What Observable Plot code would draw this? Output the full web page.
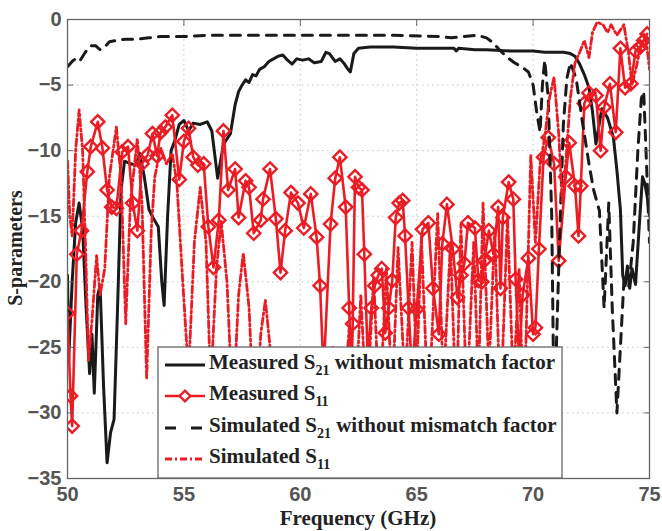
<!DOCTYPE html>
<html>
<head>
<meta charset="utf-8">
<script src="https://cdn.jsdelivr.net/npm/d3@7"></script>
<script src="https://cdn.jsdelivr.net/npm/@observablehq/plot@0.6"></script>
<style>
  html, body { margin: 0; padding: 0; background: #fff; }
  #chart svg { display: block; }
</style>
</head>
<body>
<div id="chart"></div>
<script>
// ---------------- data (GHz, dB) ----------------
const xTicks = [50, 55, 60, 65, 70, 75];
const yTicks = [-35, -30, -25, -20, -15, -10, -5, 0];

const measS21Freq = [50.0,50.05,50.2,50.35,50.5,50.65,50.8,50.95,51.05,51.15,51.3,51.4,51.55,51.7,51.85,52.0,52.15,52.3,52.45,52.7,52.95,53.1,53.3,53.5,53.7,53.9,54.05,54.15,54.3,54.45,54.6,54.8,55.0,55.2,55.4,55.7,56.0,56.2,56.45,56.7,57.0,57.2,57.35,57.5,57.65,57.8,57.95,58.1,58.25,58.45,58.65,58.85,59.05,59.25,59.45,59.65,59.85,60.1,60.35,60.6,60.9,61.1,61.25,61.5,61.7,61.9,62.05,62.15,62.3,62.5,63.0,64.0,65.0,66.0,66.6,66.7,66.8,67.5,68.0,69.0,70.0,70.5,71.0,71.3,71.6,71.8,72.0,72.2,72.4,72.55,72.7,72.95,73.2,73.45,73.6,73.75,73.85,73.95,74.05,74.15,74.25,74.4,74.55,74.7,74.8,74.9,75.0];
const measS21 = [-19.5,-26,-20,-15.5,-14.0,-16,-22,-27,-24,-28.5,-21,-20.3,-28,-33.8,-31.5,-30.5,-22,-13,-10.8,-11.0,-11.1,-10.2,-12.0,-14.5,-15.2,-15.8,-20,-21.8,-15,-10,-9.3,-8.0,-7.7,-8.5,-7.9,-8.0,-7.8,-8.5,-12.1,-9.5,-8.7,-6.5,-5.5,-5.0,-4.6,-4.8,-4.2,-4.3,-3.8,-3.6,-3.2,-3.0,-2.8,-2.7,-3.1,-3.4,-3.0,-3.1,-3.0,-3.3,-3.2,-2.5,-2.6,-3.2,-3.0,-3.4,-3.8,-4.0,-2.6,-2.2,-2.1,-2.1,-2.2,-2.2,-2.2,-2.4,-2.2,-2.3,-2.3,-2.4,-2.4,-2.5,-2.5,-2.5,-2.6,-2.8,-3.4,-4.2,-5.2,-7.0,-9.5,-6.8,-7.5,-9.0,-11.5,-14.5,-19.5,-20.3,-18.8,-20.5,-19.0,-20.2,-16,-12,-12.5,-13.5,-15];

const measS11Freq = [50.0,50.13,50.2,50.4,50.6,50.85,51.0,51.3,51.5,51.7,51.9,52.1,52.35,52.6,52.8,53.0,53.2,53.45,53.65,53.85,54.0,54.2,54.5,54.8,55.0,55.2,55.4,55.6,55.85,56.05,56.27,56.5,56.7,56.9,57.2,57.35,57.65,57.8,58.0,58.3,58.4,58.7,58.95,59.15,59.35,59.6,59.9,60.15,60.45,60.7,60.85,61.0,61.3,61.5,61.7,61.95,62.1,62.2,62.25,62.35,62.5,62.65,62.75,62.9,63.05,63.2,63.35,63.5,63.65,63.8,63.95,64.1,64.25,64.4,64.5,64.65,64.8,65.0,65.25,65.5,65.7,65.95,66.1,66.3,66.55,66.75,66.9,67.05,67.2,67.5,67.65,67.8,67.9,68.1,68.3,68.5,68.6,68.7,68.95,69.15,69.25,69.4,69.55,69.8,70.0,70.1,70.25,70.45,70.65,70.9,71.1,71.4,71.55,71.8,71.95,72.05,72.2,72.4,72.7,72.9,73.05,73.3,73.55,73.75,73.95,74.2,74.4,74.6,74.75,74.9];
const measS11 = [-22.4,-28.7,-31,-17.9,-16.1,-11.6,-9.7,-7.8,-9.8,-13,-14.3,-14.4,-10.1,-9.7,-14,-16.1,-11,-10.3,-8.7,-10.4,-8.6,-8.2,-7.3,-12.2,-9.3,-8.3,-10.5,-11.1,-11.0,-15.8,-18.9,-15.3,-8.5,-13,-11.4,-15.1,-12.3,-12.8,-16.3,-15.3,-13.7,-11.4,-15.2,-19.3,-16.1,-13.2,-14,-15.9,-13.3,-16.6,-20.3,-27,-15.6,-12.1,-10.5,-14.3,-22,-28,-23.2,-12.0,-12.8,-13.0,-17.9,-26,-22,-20.3,-19.5,-19.0,-23.9,-22,-19.9,-15.1,-14.0,-13.8,-16.5,-22,-27,-22.1,-16.0,-15.5,-20.5,-24,-17.1,-14.1,-17.5,-21.2,-19.5,-18.6,-15.5,-15.9,-19.9,-20,-18.4,-16.1,-17.9,-14.3,-20.5,-15.1,-12.4,-13.7,-19.8,-26,-21,-18.2,-24,-23.5,-17.5,-10.5,-9.0,-11.0,-18.4,-12.0,-9.4,-12.7,-16.5,-12.7,-6.4,-5.6,-5.8,-10,-6.7,-4.9,-8.6,-2.2,-5.2,-4.9,-2.4,-2.1,-1.6,-1.1];

const simS21Freq = [50.0,50.2,50.4,50.55,50.8,51.0,51.2,51.4,51.55,51.8,52.1,52.5,53.0,53.5,54.0,55.0,56.0,58.0,60.0,62.0,64.0,66.0,66.5,67.0,67.6,68.0,68.3,68.6,68.9,69.2,69.5,69.8,70.0,70.15,70.3,70.4,70.5,70.65,70.8,70.9,71.0,71.15,71.3,71.45,71.6,71.85,72.1,72.4,72.6,72.85,73.05,73.15,73.25,73.4,73.6,73.75,73.9,74.1,74.3,74.5,74.65,74.75,74.85,75.0];
const simS21 = [-3.6,-3.2,-2.9,-3.1,-2.4,-2.0,-2.0,-2.3,-2.2,-1.7,-1.6,-1.5,-1.5,-1.4,-1.3,-1.3,-1.2,-1.2,-1.2,-1.2,-1.2,-1.3,-1.4,-1.3,-1.2,-1.4,-1.8,-2.4,-2.9,-3.3,-3.6,-4.0,-5.0,-7.0,-8.6,-5.0,-3.1,-6.0,-15,-30,-25,-16,-8,-4.5,-3.3,-4.5,-7.6,-11,-13,-14.6,-22,-18,-14,-22,-30,-25,-20,-20.5,-17,-10,-6,-5.5,-10,-17];

const simS11Freq = [50.0,50.1,50.2,50.35,50.5,50.65,50.8,50.9,51.05,51.25,51.4,51.6,51.8,52.1,52.3,52.5,52.7,53.0,53.2,53.4,53.6,53.75,54.0,54.25,54.5,54.7,54.95,55.2,55.45,55.7,55.95,56.15,56.4,56.6,56.85,57.1,57.35,57.55,57.8,58.05,58.3,58.5,58.7,58.95,59.3,59.6,59.95,60.3,60.65,61.0,61.4,61.75,62.1,62.35,62.6,62.85,63.15,63.4,63.7,63.95,64.2,64.5,64.8,65.0,65.2,65.5,65.9,66.15,66.45,66.7,66.9,67.15,67.45,67.65,67.85,68.1,68.35,68.6,68.9,69.15,69.4,69.6,69.9,70.1,70.3,70.5,70.7,70.9,71.1,71.25,71.4,71.6,71.8,72.0,72.2,72.4,72.55,72.75,73.0,73.2,73.35,73.6,73.9,74.1,74.25,74.45,74.65,74.85,75.0];
const simS11 = [-10.8,-15,-16.5,-10,-6.9,-10,-19,-26,-23,-18,-21,-19,-12,-8.2,-12,-23.2,-14,-9.1,-14,-27.4,-16,-12,-9.8,-11,-10.2,-12.5,-20,-27,-17,-12.8,-17,-28,-19,-15.4,-20,-30,-21,-17.8,-22,-32,-24,-21.4,-25,-34,-27,-33,-27,-34,-26,-33,-25,-32,-23.5,-30,-21,-30,-19.7,-30,-19,-29,-17.4,-28,-17,-27,-16.6,-30,-14.8,-28,-17,-30,-15.6,-29,-17,-28,-14,-27,-16,-30,-15,-28,-19,-31,-10.3,-17,-11,-9,-6,-4.4,-8.7,-14,-11,-6,-3.3,-2.5,-1.6,-2.9,-1.0,-0.2,-0.4,-1.0,-0.4,-1.2,-0.4,-2.6,-5,-3.5,-1.8,-1.5,-3.8];

const seriesNames = [
  ["Measured S", "21", " without mismatch factor"],
  ["Measured S", "11", ""],
  ["Simulated S", "21", " without mismatch factor"],
  ["Simulated S", "11", ""]
];
const xTitle = "Frequency (GHz)";
const yTitle = "S-parameters";

// ---------------- build ----------------
const zip = (f, v) => f.map((x, i) => ({f: x, v: v[i]}));
const dMS21 = zip(measS21Freq, measS21);
const dMS11 = zip(measS11Freq, measS11);
const dSS21 = zip(simS21Freq, simS21);
const dSS11 = zip(simS11Freq, simS11);

const RED = "#ec1c24";
const BLK = "#1a1a1a";
const GREY = "#555";
const SERIF = "'Liberation Serif', 'Times New Roman', serif";
const SANS = "'Liberation Sans', Arial, sans-serif";

const chart = Plot.plot({
  width: 662,
  height: 531,
  marginLeft: 67,
  marginRight: 13,
  marginTop: 19,
  marginBottom: 53,
  style: {background: "#fff", fontFamily: SANS},
  x: {domain: [50, 75], label: null},
  y: {domain: [-35, 0], label: null},
  marks: [
    Plot.gridX(xTicks, {stroke: "#c4c4c4", strokeOpacity: 1, strokeDasharray: "1.5,3.5"}),
    Plot.gridY(yTicks, {stroke: "#c4c4c4", strokeOpacity: 1, strokeDasharray: "1.5,3.5"}),
    Plot.line(dMS21, {x: "f", y: "v", stroke: BLK, strokeWidth: 3, clip: true}),
    Plot.line(dMS11, {x: "f", y: "v", stroke: RED, strokeWidth: 2.6, clip: true}),
    Plot.dot(dMS11, {x: "f", y: "v", symbol: "diamond2", r: 6, stroke: RED, strokeWidth: 2.4, fill: "none", clip: true}),
    Plot.line(dSS21, {x: "f", y: "v", stroke: BLK, strokeWidth: 3, strokeDasharray: "10,8", clip: true}),
    Plot.line(dSS11, {x: "f", y: "v", stroke: RED, strokeWidth: 2.8, strokeDasharray: "7,3,2,3", clip: true}),
    Plot.frame({stroke: "#666", strokeWidth: 1.3}),
    Plot.axisX(xTicks, {anchor: "bottom", tickSize: -6, tickPadding: 14, stroke: "#666", fill: GREY, fontSize: 20, fontWeight: "bold", label: null}),
    Plot.axisX(xTicks, {anchor: "top", tickSize: -6, tickFormat: () => "", stroke: "#666", label: null}),
    Plot.axisY(yTicks, {anchor: "left", tickSize: -6, tickPadding: 12, stroke: "#666", fill: GREY, fontSize: 20, fontWeight: "bold", label: null}),
    Plot.axisY(yTicks, {anchor: "right", tickSize: -6, tickFormat: () => "", stroke: "#666", label: null})
  ]
});

document.getElementById("chart").appendChild(chart);

const svg = d3.select(chart);

// axis titles
svg.append("text").attr("x", 358).attr("y", 525)
  .attr("text-anchor", "middle").attr("font-family", SERIF).attr("font-weight", "bold")
  .attr("font-size", 21).attr("fill", "#222").text(xTitle);
svg.append("text").attr("transform", "translate(22,248) rotate(-90)")
  .attr("text-anchor", "middle").attr("font-family", SERIF).attr("font-weight", "bold")
  .attr("font-size", 20).attr("fill", "#222").text(yTitle);

// ---------------- legend ----------------
const lg = svg.append("g").attr("class", "legend");
const bx0 = 158, bx1 = 562, by0 = 347, by1 = 478;
lg.append("rect").attr("x", bx0).attr("y", by0).attr("width", bx1 - bx0).attr("height", by1 - by0)
  .attr("fill", "#fff").attr("stroke", "#666").attr("stroke-width", 1.3);

const rowBase = [369, 400, 432, 463];
const styles = [
  {stroke: BLK, width: 3, dash: null, marker: false},
  {stroke: RED, width: 2.6, dash: null, marker: true},
  {stroke: BLK, width: 3, dash: "11,15", marker: false},
  {stroke: RED, width: 2.8, dash: "7,3,2,3", marker: false}
];
seriesNames.forEach((parts, i) => {
  const yl = rowBase[i] - 4;
  const s = styles[i];
  const ln = lg.append("line").attr("x1", 165).attr("x2", 205).attr("y1", yl).attr("y2", yl)
    .attr("stroke", s.stroke).attr("stroke-width", s.width);
  if (s.dash) ln.attr("stroke-dasharray", s.dash);
  if (s.marker) {
    lg.append("path").attr("d", d3.symbol(d3.symbolDiamond2, 72)())
      .attr("transform", `translate(185,${yl})`).attr("fill", "#fff")
      .attr("stroke", RED).attr("stroke-width", 2.4);
  }
  const t = lg.append("text").attr("x", 209).attr("y", rowBase[i]).attr("text-anchor", "start")
    .attr("font-family", SERIF).attr("font-weight", "bold").attr("font-size", 21).attr("fill", "#222");
  t.append("tspan").text(parts[0]);
  t.append("tspan").attr("dy", 6).attr("font-size", 14).text(parts[1]);
  if (parts[2]) t.append("tspan").attr("dy", -6).text(parts[2]);
});
</script>
</body>
</html>
